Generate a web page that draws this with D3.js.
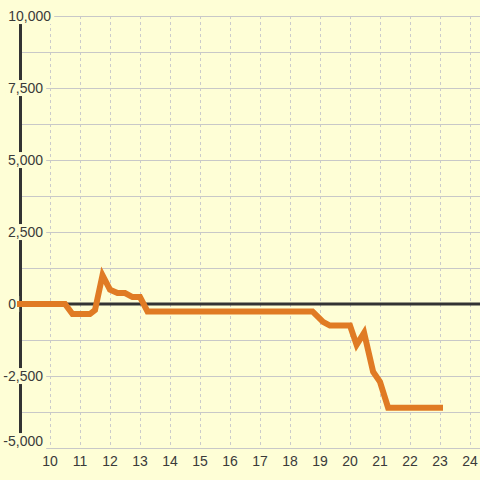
<!DOCTYPE html>
<html>
<head>
<meta charset="utf-8">
<script src="https://cdn.jsdelivr.net/npm/d3@7/dist/d3.min.js"></script>
<style>
  body { margin: 0; background: #fefed6; }
  svg { display: block; }
  text { font-family: "Liberation Sans", Arial, sans-serif; font-size: 14px; fill: #3a3a3a; }
</style>
</head>
<body>
<div class="chart-container"></div>
<script>
// hour of day and running value
var hours  = [9, 10.5, 10.75, 11.33, 11.5, 11.75, 12, 12.25, 12.5, 12.75, 13, 13.25, 18.75, 19.1, 19.33, 20, 20.22, 20.47, 20.77, 21, 21.27, 23];
var values = [0, 0, -350, -350, -210, 1000, 500, 380, 380, 240, 240, -260, -260, -620, -750, -750, -1420, -1000, -2350, -2700, -3600, -3600];

var xTicks = [10, 11, 12, 13, 14, 15, 16, 17, 18, 19, 20, 21, 22, 23, 24];
var yTicks = [-5000, -2500, 0, 2500, 5000, 7500, 10000];
var yGrid  = [-5000, -3750, -2500, -1250, 0, 1250, 2500, 3750, 5000, 6250, 7500, 8750, 10000];

var width = 480, height = 480;
var bg = "#fefed6";

var data = hours.map(function (h, i) { return {hour: h, value: values[i]}; });

var x = d3.scaleLinear().domain([9, 24 + 1 / 3]).range([20, 480]);
var y = d3.scaleLinear().domain([-5000, 10000]).range([448, 16]);

var fmt = d3.formatLocale({decimal: ".", thousands: ",", grouping: [3], currency: ["", ""], minus: "-"}).format(",");

var svg = d3.select(".chart-container").append("svg")
    .attr("width", width)
    .attr("height", height);

svg.append("rect").attr("width", width).attr("height", height).attr("fill", bg);

// vertical dashed grid
svg.append("g").selectAll("line")
    .data(xTicks)
  .enter().append("line")
    .attr("x1", function (d) { return x(d) + 0.5; })
    .attr("x2", function (d) { return x(d) + 0.5; })
    .attr("y1", y(10000))
    .attr("y2", y(-5000))
    .attr("stroke", "#cbcbcb")
    .attr("stroke-dasharray", "3,3");

// horizontal grid
svg.append("g").selectAll("line")
    .data(yGrid)
  .enter().append("line")
    .attr("x1", x(9))
    .attr("x2", width)
    .attr("y1", function (d) { return y(d) + 0.5; })
    .attr("y2", function (d) { return y(d) + 0.5; })
    .attr("stroke", "#c8c8c8");

// y axis line
svg.append("line")
    .attr("x1", x(9) + 0.5).attr("x2", x(9) + 0.5)
    .attr("y1", y(10000)).attr("y2", y(-5000))
    .attr("stroke", "#333")
    .attr("stroke-width", 3);

// zero line
svg.append("line")
    .attr("x1", x(9)).attr("x2", width)
    .attr("y1", y(0)).attr("y2", y(0))
    .attr("stroke", "#333")
    .attr("stroke-width", 3);

// y labels sit on a background box that hides the axis behind them
var yLab = svg.append("g").selectAll("g")
    .data(yTicks)
  .enter().append("g")
    .attr("transform", function (d) {
      var ax = 43, ay = y(d);
      if (d === 0) ax = 16;
      if (d === 10000) ax = 51;
      if (d === -5000) ay -= 7;
      return "translate(" + ax + "," + ay + ")";
    });

yLab.append("text")
    .attr("text-anchor", "end")
    .attr("dy", "0.36em")
    .text(function (d) { return fmt(d); })
    .each(function () {
      var b = this.getBBox();
      d3.select(this.parentNode).insert("rect", "text")
          .attr("x", b.x - 2)
          .attr("y", b.y)
          .attr("width", b.width + 5)
          .attr("height", b.height)
          .attr("fill", bg);
    });

// x labels
svg.append("g").selectAll("text")
    .data(xTicks)
  .enter().append("text")
    .attr("x", function (d) { return x(d); })
    .attr("y", 466)
    .attr("text-anchor", "middle")
    .text(function (d) { return d; });

var line = d3.line()
    .x(function (d) { return x(d.hour); })
    .y(function (d) { return y(d.value); });

svg.append("path")
    .datum(data)
    .attr("d", line)
    .attr("fill", "none")
    .attr("stroke", "#e07b24")
    .attr("stroke-width", 6)
    .attr("stroke-linecap", "square");
</script>
</body>
</html>
